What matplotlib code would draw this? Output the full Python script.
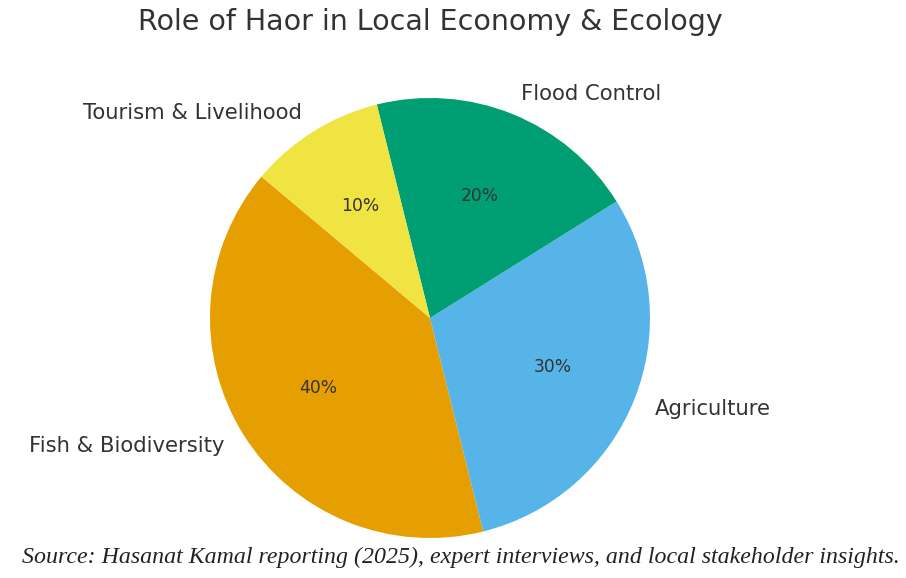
import matplotlib
matplotlib.use('Agg')
import matplotlib.pyplot as plt

# Data
labels = ['Fish & Biodiversity', 'Agriculture', 'Flood Control', 'Tourism & Livelihood']
shares = [40, 30, 20, 10]
colors = ['#E69F00', '#56B4E9', '#009E73', '#F0E442']

title = 'Role of Haor in Local Economy & Ecology'
source = 'Source: Hasanat Kamal reporting (2025), expert interviews, and local stakeholder insights.'

text_color = '#333333'

fig = plt.figure(figsize=(9.06, 5.78), dpi=100)
ax = fig.add_axes([155 / 906, (578 - 593) / 578, 550 / 906, 550 / 578])

wedges, texts, autotexts = ax.pie(shares, labels=labels, colors=colors, startangle=140,
                                  autopct='%1.0f%%', textprops={'color': text_color})
for t in texts:
    t.set_fontsize(15.2)
for t in autotexts:
    t.set_fontsize(12.3)
ax.set_xlim(-1.25, 1.25)
ax.set_ylim(-1.25, 1.25)
ax.set_aspect('equal')

fig.text(430 / 906, 1 - 22 / 578, title, ha='center', va='center', fontsize=20.5, color=text_color)
fig.text(461 / 906, 1 - 557 / 578, source, ha='center', va='center', fontsize=17.2,
         family='Liberation Serif', style='italic', color='#222222')

fig.savefig('out.png', dpi=100, facecolor='white')
